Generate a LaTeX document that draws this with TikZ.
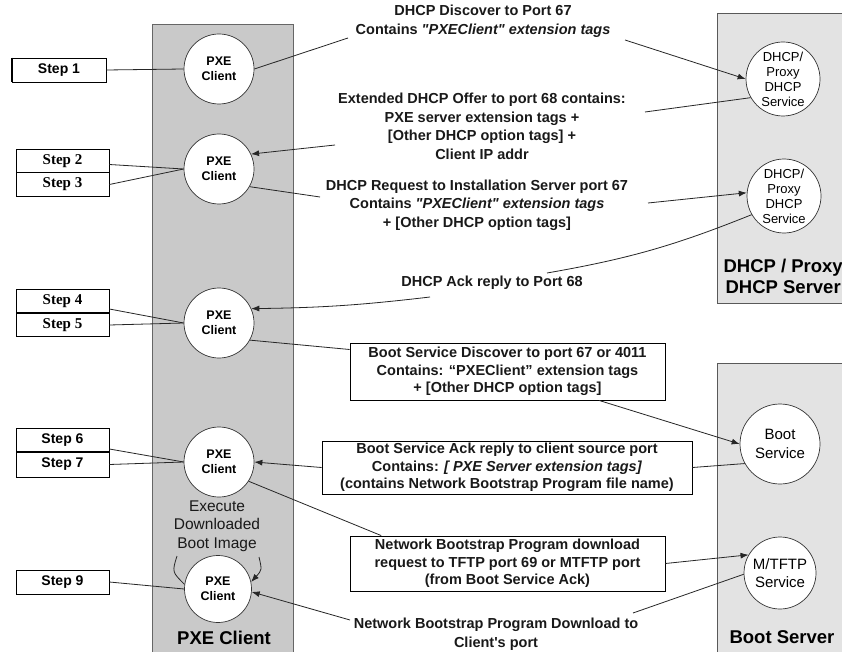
\documentclass[tikz,border=0pt]{standalone}
\usepackage{fontspec}
\setmainfont{Liberation Sans}[Ligatures=TeXOff]
\newfontfamily\stepserif{Liberation Serif}[Ligatures=TeXOff]
\usetikzlibrary{arrows.meta,calc}
\begin{document}
\begin{tikzpicture}[x=1pt,y=-1pt,
  conn/.style={draw=black!85, line width=0.8pt},
  arr/.style={conn, -{Latex[length=8pt,width=6pt]}},
  pxe/.style={circle, draw=black!80, line width=0.7pt, fill=white, minimum size=70pt, inner sep=0pt, align=center, font=\bfseries\fontsize{12.5}{14.5}\selectfont},
  svc/.style={circle, draw=black!80, line width=0.7pt, fill=white, minimum size=74pt, inner sep=0pt, align=center, font=\fontsize{13}{15}\selectfont},
  msg/.style={align=center, inner sep=2pt, font=\bfseries\fontsize{14.5}{18.5}\selectfont, text=black!90},
  msgbox/.style={draw=black, line width=0.9pt, fill=white, align=center, inner sep=0pt, font=\bfseries\fontsize{14.5}{17.5}\selectfont, text=black!90},
  stepbox/.style={draw=black, line width=0.8pt, fill=white, minimum width=93pt, minimum height=23.5pt, inner sep=0pt, font=\bfseries\fontsize{14}{16}\selectfont},
  serifstep/.style={stepbox, font=\stepserif\bfseries\fontsize{15}{16}\selectfont},
  title/.style={font=\bfseries\fontsize{18.5}{21}\selectfont, align=center},
  colfill/.style={fill=black!21, draw=black!60, line width=0.8pt},
  srvfill/.style={fill=black!11, draw=black!65, line width=0.8pt}
]
\useasboundingbox (0,0) rectangle (842,652);
\fill[white] (0,0) rectangle (842,652);
% backgrounds
\draw[colfill] (152,24) rectangle (293,670);
\draw[srvfill] (717,13) rectangle (870,303);
\draw[srvfill] (717,363) rectangle (870,670);
% titles
\node[title, anchor=west] (dhcpT) at (720,276) {DHCP / Proxy\\DHCP Server};
\node[title] (bootT) at (782,637) {Boot Server};
\node[title] (pxeT) at (224,638) {PXE Client};
% PXE client circles
\node[pxe] (pxe1) at (219,69) {PXE\\Client};
\node[pxe] (pxe2) at (219,169) {PXE\\Client};
\node[pxe] (pxe3) at (219,323) {PXE\\Client};
\node[pxe] (pxe4) at (219,462) {PXE\\Client};
\node[pxe, minimum size=67pt] (pxe5) at (218,589) {PXE\\Client};
\node[align=center, font=\fontsize{15.5}{18.5}\selectfont, text=black!90] (exec) at (217,526) {Execute\\Downloaded\\Boot Image};
% server circles
\node[svc] (svc1) at (783,79) {DHCP/\\Proxy\\DHCP\\Service};
\node[svc] (svc2) at (784,196) {DHCP/\\Proxy\\DHCP\\Service};
\node[svc, minimum size=80pt, font=\fontsize{15}{19}\selectfont] (boot) at (780,444) {Boot\\Service};
\node[svc, minimum size=72pt, font=\fontsize{15}{18}\selectfont] (mtftp) at (780,573) {M/TFTP\\Service};
% step boxes
\node[stepbox, minimum width=94pt, minimum height=24pt] (s1) at (59,70) {Step 1};
\draw[line width=2pt] (s1.north west) -- (s1.south west);
\node[serifstep] (s2) at (62.5,161.5) {Step 2};
\node[serifstep] (s3) at (62.5,184.5) {Step 3};
\node[serifstep] (s4) at (62.5,301) {Step 4};
\node[serifstep] (s5) at (62.5,325) {Step 5};
\node[stepbox] (s6) at (62.5,440) {Step 6};
\node[stepbox, minimum height=25pt] (s7) at (62.5,464.5) {Step 7};
\node[stepbox, minimum height=24pt] (s9) at (62.5,582) {Step 9};
% message labels
\node[msg] (m1) at (483,21.5) {DHCP Discover to Port 67\\Contains \textit{"PXEClient" extension tags}};
\node[msg] (m2) at (482,126.5) {Extended DHCP Offer to port 68 contains:\\PXE server extension tags +\\{[Other DHCP option tags] +}\\Client IP addr};
\node[msg] (m3) at (477,205) {DHCP Request to Installation Server port 67\\Contains \textit{"PXEClient" extension tags}\\+ [Other DHCP option tags]};
\node[msg] (m4) at (492,283) {DHCP Ack reply to Port 68};
\node[msgbox, minimum width=315pt, minimum height=57pt] (b5) at (507.5,371.5) {Boot Service Discover to port 67 or 4011\\Contains: “PXEClient” extension tags\\+ [Other DHCP option tags]};
\node[msgbox, minimum width=370pt, minimum height=53pt] (b6) at (507,467.5) {Boot Service Ack reply to client source port\\Contains: \textit{[ PXE Server extension tags]}\\(contains Network Bootstrap Program file name)};
\node[msgbox, minimum width=315pt, minimum height=55pt] (b7) at (507.5,563.5) {Network Bootstrap Program download\\request to TFTP port 69 or MTFTP port\\(from Boot Service Ack)};
\node[msg] (m8) at (496,634) {Network Bootstrap Program Download to\\Client's port};
% free ends of connectors beside the labels
\coordinate (m1a) at (348,38);
\coordinate (m1b) at (625,40);
\coordinate (m2a) at (645,112);
\coordinate (m2b) at (335,145);
\coordinate (m3a) at (320,197);
\coordinate (m3b) at (648,203);
\coordinate (m4a) at (547,273);
\coordinate (m4b) at (430,297);
\coordinate (m8a) at (633,613);
\coordinate (m8b) at (350,620);
\coordinate (e1) at (177,556);
\coordinate (e2) at (259,557);
% step connectors
\draw[conn] (s1.east) -- (pxe1.west);
\draw[conn] ([yshift=-3pt]s2.east) -- (pxe2.west);
\draw[conn] (s3.east) -- (pxe2.west);
\draw[conn] ([yshift=-8pt]s4.east) -- (pxe3.west);
\draw[conn] (s5.east) -- (pxe3.west);
\draw[conn] ([yshift=-9pt]s6.east) -- (pxe4.west);
\draw[conn] (s7.east) -- (pxe4.west);
\draw[conn] (s9.east) -- (pxe5.west);
% message connectors
\draw[conn] (pxe1.east) -- (m1a);
\draw[arr] (m1b) -- (svc1.west);
\draw[conn] (svc1.210) -- (m2a);
\draw[arr] (m2b) -- (pxe2.25);
\draw[conn] (pxe2.-30) -- (m3a);
\draw[arr] (m3b) -- (svc2.175);
\draw[conn] (svc2.210) to[bend left=6] (m4a);
\draw[arr] (m4b) to[bend left=3] (pxe3.24);
\draw[conn] (pxe3.-29) -- ($(b5.north west)!0.12!(b5.south west)$);
\draw[arr] ($(b5.south west)!0.79!(b5.south east)$) -- (boot.west);
\draw[conn] (boot.209) -- (b6.east);
\draw[arr] (b6.west) -- (pxe4.east);
\draw[conn] (pxe4.-33) -- ($(b7.north west)!0.1!(b7.north east)$);
\draw[arr] (b7.east) -- (mtftp.150);
\draw[conn] (mtftp.182) -- (m8a);
\draw[arr] (m8b) -- (pxe5.-5);
\draw[conn] (e1) .. controls (172,572) .. (pxe5.172);
\draw[arr] (e2) .. controls (262,570) .. (pxe5.12);
\end{tikzpicture}
\end{document}
